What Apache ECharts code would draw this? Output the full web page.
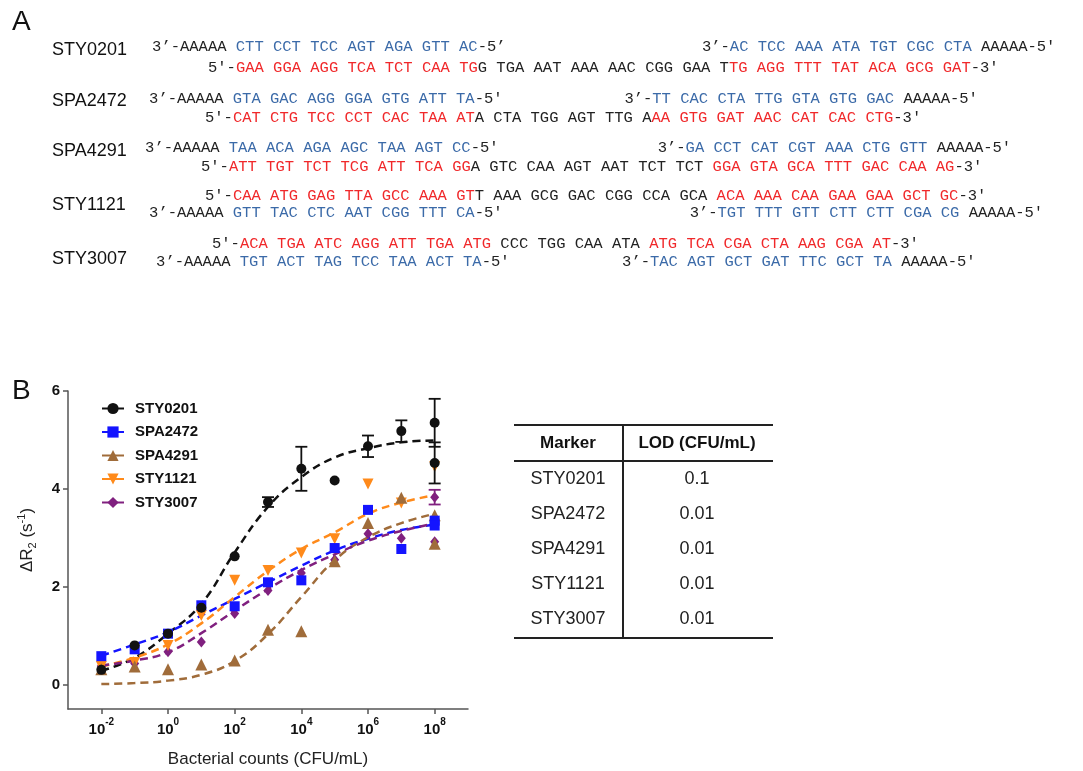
<!DOCTYPE html>
<html>
<head>
<meta charset="utf-8">
<script src="https://cdn.jsdelivr.net/npm/echarts@6/dist/echarts.min.js"></script>
<style>
  html, body { margin: 0; padding: 0; background: #fff; }
  #main { width: 1083px; height: 771px; }
</style>
</head>
<body>
<div id="main"></div>
<script>
// ---- panel B data (x = log10 of bacterial counts, CFU/mL) ----
const pointExp = [-2, -1, 0, 1, 2, 3, 4, 5, 6, 7, 8, 8];
const fitExp = [-2, -1, 0, 1, 2, 3, 4, 5, 6, 7, 8];
const xTickExp = [-2, 0, 2, 4, 6, 8];
const yTicks = [0, 2, 4, 6];

const sty0201Y = [0.30, 0.80, 1.04, 1.57, 2.62, 3.73, 4.41, 4.17, 4.87, 5.18, 5.35, 4.53];
const spa2472Y = [0.58, 0.72, 1.04, 1.62, 1.60, 2.09, 2.13, 2.79, 3.57, 2.77, 3.35, 3.25];
const spa4291Y = [0.31, 0.37, 0.31, 0.41, 0.49, 1.12, 1.09, 2.52, 3.30, 3.82, 3.46, 2.88];
const sty1121Y = [0.37, 0.45, 0.80, 1.41, 2.13, 2.33, 2.69, 2.98, 4.10, 3.71, 4.45, null];
const sty3007Y = [0.38, 0.43, 0.67, 0.87, 1.45, 1.92, 2.28, 2.55, 3.08, 2.99, 3.83, 2.92];

const sty0201Err = [0, 0, 0, 0, 0, 0.10, 0.45, 0, 0.22, 0.22, 0.49, 0.42];
const sty3007Err = [0, 0, 0, 0, 0, 0, 0, 0, 0, 0, 0.15, 0];

const sty0201Fit = [0.28, 0.55, 1.04, 1.65, 2.70, 3.63, 4.24, 4.64, 4.83, 4.95, 4.99];
const spa2472Fit = [0.59, 0.82, 1.07, 1.41, 1.75, 2.09, 2.43, 2.74, 2.98, 3.16, 3.27];
const spa4291Fit = [0.01, 0.03, 0.08, 0.20, 0.48, 1.03, 1.79, 2.54, 3.01, 3.30, 3.49];
const sty1121Fit = [0.37, 0.55, 0.82, 1.25, 1.79, 2.32, 2.77, 3.11, 3.49, 3.72, 3.87];
const sty3007Fit = [0.39, 0.49, 0.66, 1.05, 1.51, 1.95, 2.34, 2.66, 2.94, 3.14, 3.29];

const markers = ['STY0201', 'SPA2472', 'SPA4291', 'STY1121', 'STY3007'];
const lodValues = ['0.1', '0.01', '0.01', '0.01', '0.01'];

// ---- panel A sequences: [style, text] pieces; k = black, b = probe (blue), r = target (red) ----
const primerLeft = [
  [['k', '3’-AAAAA '], ['b', 'CTT CCT TCC AGT AGA GTT AC'], ['k', '-5’']],
  [['k', '3’-AAAAA '], ['b', 'GTA GAC AGG GGA GTG ATT TA'], ['k', "-5'"]],
  [['k', '3’-AAAAA '], ['b', 'TAA ACA AGA AGC TAA AGT CC'], ['k', "-5'"]],
  [['k', '3’-AAAAA '], ['b', 'GTT TAC CTC AAT CGG TTT CA'], ['k', "-5'"]],
  [['k', '3’-AAAAA '], ['b', 'TGT ACT TAG TCC TAA ACT TA'], ['k', "-5'"]]
];
const primerRight = [
  [['k', '3’-'], ['b', 'AC TCC AAA ATA TGT CGC CTA'], ['k', " AAAAA-5'"]],
  [['k', '3’-'], ['b', 'TT CAC CTA TTG GTA GTG GAC'], ['k', " AAAAA-5'"]],
  [['k', '3’-'], ['b', 'GA CCT CAT CGT AAA CTG GTT'], ['k', " AAAAA-5'"]],
  [['k', '3’-'], ['b', 'TGT TTT GTT CTT CTT CGA CG'], ['k', " AAAAA-5'"]],
  [['k', '3’-'], ['b', 'TAC AGT GCT GAT TTC GCT TA'], ['k', " AAAAA-5'"]]
];
const targets = [
  [['k', "5'-"], ['r', 'GAA GGA AGG TCA TCT CAA TG'], ['k', 'G TGA AAT AAA AAC CGG GAA T'], ['r', 'TG AGG TTT TAT ACA GCG GAT'], ['k', "-3'"]],
  [['k', "5'-"], ['r', 'CAT CTG TCC CCT CAC TAA AT'], ['k', 'A CTA TGG AGT TTG A'], ['r', 'AA GTG GAT AAC CAT CAC CTG'], ['k', "-3'"]],
  [['k', "5'-"], ['r', 'ATT TGT TCT TCG ATT TCA GG'], ['k', 'A GTC CAA AGT AAT TCT TCT '], ['r', 'GGA GTA GCA TTT GAC CAA AG'], ['k', "-3'"]],
  [['k', "5'-"], ['r', 'CAA ATG GAG TTA GCC AAA GT'], ['k', 'T AAA GCG GAC CGG CCA GCA '], ['r', 'ACA AAA CAA GAA GAA GCT GC'], ['k', "-3'"]],
  [['k', "5'-"], ['r', 'ACA TGA ATC AGG ATT TGA ATG'], ['k', ' CCC TGG CAA ATA '], ['r', 'ATG TCA CGA CTA AAG CGA AT'], ['k', "-3'"]]
];

// layout of the sequence rows (pixels / character columns)
const rowLayout = [
  { labelY: 50, primerY: 47, targetY: 68, targetX: 208, leftCol: -6, rightCol: 53 },
  { labelY: 101, primerY: 99, targetY: 118, targetX: 205, leftCol: -6, rightCol: 45 },
  { labelY: 151, primerY: 148, targetY: 167, targetX: 201, leftCol: -6, rightCol: 49 },
  { labelY: 205, primerY: 213, targetY: 196, targetX: 205, leftCol: -6, rightCol: 52 },
  { labelY: 259, primerY: 262, targetY: 244, targetX: 212, leftCol: -6, rightCol: 44 }
];
const CW = 9.32;
const MONO = 'Liberation Mono';
const SANS = 'Liberation Sans, Arial, sans-serif';

const chart = echarts.init(document.getElementById('main'));

function seqText(pieces, x, y) {
  const rich = {
    k: { fill: '#222', fontFamily: MONO, fontSize: 15.5 },
    b: { fill: '#3b6aa8', fontFamily: MONO, fontSize: 15.5 },
    r: { fill: '#f0282a', fontFamily: MONO, fontSize: 15.5 }
  };
  return {
    type: 'text', x: x, y: y, silent: true,
    style: {
      text: pieces.map(p => '{' + p[0] + '|' + p[1] + '}').join(''),
      rich: rich, font: '15.5px ' + MONO, verticalAlign: 'middle', align: 'left'
    }
  };
}

const graphics = [];
graphics.push({ type: 'text', x: 12, y: 22, style: { text: 'A', font: '28px ' + SANS, fill: '#111', verticalAlign: 'middle' } });
graphics.push({ type: 'text', x: 12, y: 391, style: { text: 'B', font: '28px ' + SANS, fill: '#111', verticalAlign: 'middle' } });

rowLayout.forEach((L, i) => {
  graphics.push({ type: 'text', x: 52, y: L.labelY, style: { text: markers[i], font: '18px ' + SANS, fill: '#111', verticalAlign: 'middle' } });
  graphics.push(seqText(primerLeft[i], L.targetX + L.leftCol * CW, L.primerY));
  graphics.push(seqText(primerRight[i], L.targetX + L.rightCol * CW, L.primerY));
  graphics.push(seqText(targets[i], L.targetX, L.targetY));
});

// LOD table
const tbl = { left: 514, right: 773, mid: 623, top: 425, head: 461, bottom: 638, c1: 568, c2: 697 };
const tLine = (x1, y1, x2, y2, w) => ({ type: 'line', shape: { x1, y1, x2, y2 }, style: { stroke: '#222', lineWidth: w }, silent: true });
graphics.push(tLine(tbl.left, tbl.top, tbl.right, tbl.top, 2));
graphics.push(tLine(tbl.left, tbl.head, tbl.right, tbl.head, 2));
graphics.push(tLine(tbl.left, tbl.bottom, tbl.right, tbl.bottom, 2));
graphics.push(tLine(tbl.mid, tbl.top, tbl.mid, tbl.bottom, 2));
graphics.push({ type: 'text', x: tbl.c1, y: 443, style: { text: 'Marker', font: 'bold 17px ' + SANS, fill: '#111', align: 'center', verticalAlign: 'middle' } });
graphics.push({ type: 'text', x: tbl.c2, y: 443, style: { text: 'LOD (CFU/mL)', font: 'bold 17px ' + SANS, fill: '#111', align: 'center', verticalAlign: 'middle' } });
markers.forEach((m, i) => {
  const y = 479 + i * 35;
  graphics.push({ type: 'text', x: tbl.c1, y: y, style: { text: m, font: '18px ' + SANS, fill: '#222', align: 'center', verticalAlign: 'middle' } });
  graphics.push({ type: 'text', x: tbl.c2, y: y, style: { text: lodValues[i], font: '18px ' + SANS, fill: '#222', align: 'center', verticalAlign: 'middle' } });
});

// y axis title
graphics.push({
  type: 'text', x: 27, y: 540, rotation: Math.PI / 2, silent: true,
  style: {
    text: '{a|ΔR}{sub|2}{a| (s}{sup|-1}{a|)}',
    align: 'center', verticalAlign: 'middle',
    rich: {
      a: { fontFamily: SANS, fontSize: 17, fill: '#222', lineHeight: 22, verticalAlign: 'middle' },
      sub: { fontFamily: SANS, fontSize: 11, fill: '#222', lineHeight: 22, verticalAlign: 'bottom' },
      sup: { fontFamily: SANS, fontSize: 11, fill: '#222', lineHeight: 22, verticalAlign: 'top' }
    }
  }
});

// ---- series ----
const seriesDefs = [
  { name: 'STY0201', y: sty0201Y, fit: sty0201Fit, err: sty0201Err, color: '#111111', symbol: 'circle', size: 10, rotate: 0 },
  { name: 'SPA2472', y: spa2472Y, fit: spa2472Fit, err: null, color: '#1414ff', symbol: 'rect', size: 10, rotate: 0 },
  { name: 'SPA4291', y: spa4291Y, fit: spa4291Fit, err: null, color: '#a06c3a', symbol: 'triangle', size: 12, rotate: 0 },
  { name: 'STY1121', y: sty1121Y, fit: sty1121Fit, err: null, color: '#ff8a1a', symbol: 'triangle', size: 11, rotate: 180 },
  { name: 'STY3007', y: sty3007Y, fit: sty3007Fit, err: sty3007Err, color: '#80207f', symbol: 'diamond', size: [9, 11], rotate: 0 }
];

const series = [];
seriesDefs.forEach(d => {
  series.push({
    type: 'line', name: d.name, z: 2, smooth: 0.45,
    data: fitExp.map((x, i) => [x, d.fit[i]]),
    showSymbol: false, symbol: d.symbol, symbolSize: d.size, symbolRotate: d.rotate,
    itemStyle: { color: d.color },
    lineStyle: { color: d.color, width: 2.5, type: [8, 5] },
    silent: true
  });
});
seriesDefs.slice().reverse().forEach((d, k) => {
  series.push({
    type: 'scatter', name: d.name, z: 3 + k,
    data: pointExp.map((x, i) => [x, d.y[i]]).filter(p => p[1] != null),
    symbol: d.symbol, symbolSize: d.size, symbolRotate: d.rotate,
    itemStyle: { color: d.color, opacity: 1 }, silent: true
  });
  if (d.err) {
    series.push({
      type: 'custom', name: d.name + ' SD', z: 3 + k, silent: true,
      data: pointExp.map((x, i) => [x, d.y[i], d.err[i]]).filter(p => p[2] > 0),
      encode: { x: 0, y: 1 },
      renderItem: (params, api) => {
        const x = api.value(0), y = api.value(1), e = api.value(2);
        const hi = api.coord([x, y + e]), lo = api.coord([x, y - e]);
        const hw = 6;
        const st = { stroke: d.color, lineWidth: 1.8 };
        return {
          type: 'group', children: [
            { type: 'line', shape: { x1: hi[0], y1: hi[1], x2: lo[0], y2: lo[1] }, style: st },
            { type: 'line', shape: { x1: hi[0] - hw, y1: hi[1], x2: hi[0] + hw, y2: hi[1] }, style: st },
            { type: 'line', shape: { x1: lo[0] - hw, y1: lo[1], x2: lo[0] + hw, y2: lo[1] }, style: st }
          ]
        };
      }
    });
  }
});

const axisCol = '#555';
const option = {
  animation: false,
  backgroundColor: '#fff',
  grid: { left: 68, right: 615, top: 391, bottom: 62 },
  legend: {
    data: markers, orient: 'vertical', left: 101, top: 401, padding: 0,
    itemWidth: 22, itemHeight: 14, itemGap: 8.5,
    lineStyle: { type: 'solid' },
    textStyle: { fontFamily: SANS, fontSize: 15, fontWeight: 'bold', color: '#111', padding: [0, 0, 0, 6] }
  },
  xAxis: {
    type: 'value', min: -3, max: 9,
    name: 'Bacterial counts (CFU/mL)', nameLocation: 'middle', nameGap: 42,
    nameTextStyle: { fontFamily: SANS, fontSize: 17, color: '#222' },
    axisLine: { show: true, onZero: false, lineStyle: { color: axisCol, width: 1.5 } },
    axisTick: { show: true, length: 5, customValues: xTickExp, lineStyle: { color: axisCol, width: 1.5 } },
    splitLine: { show: false },
    axisLabel: {
      customValues: xTickExp, margin: 8,
      formatter: v => '{b|10}{s|' + v + '}',
      rich: {
        b: { fontFamily: SANS, fontSize: 15, fontWeight: 'bold', color: '#111', lineHeight: 20, verticalAlign: 'bottom' },
        s: { fontFamily: SANS, fontSize: 10, fontWeight: 'bold', color: '#111', lineHeight: 20, verticalAlign: 'top' }
      }
    }
  },
  yAxis: {
    type: 'value', min: -0.5, max: 6,
    axisLine: { show: true, onZero: false, lineStyle: { color: axisCol, width: 1.5 } },
    axisTick: { show: true, length: 5, customValues: yTicks, lineStyle: { color: axisCol, width: 1.5 } },
    splitLine: { show: false },
    axisLabel: { customValues: yTicks, margin: 8, fontFamily: SANS, fontSize: 15, fontWeight: 'bold', color: '#111' }
  },
  graphic: { elements: graphics },
  series: series
};
chart.setOption(option);
</script>
</body>
</html>
